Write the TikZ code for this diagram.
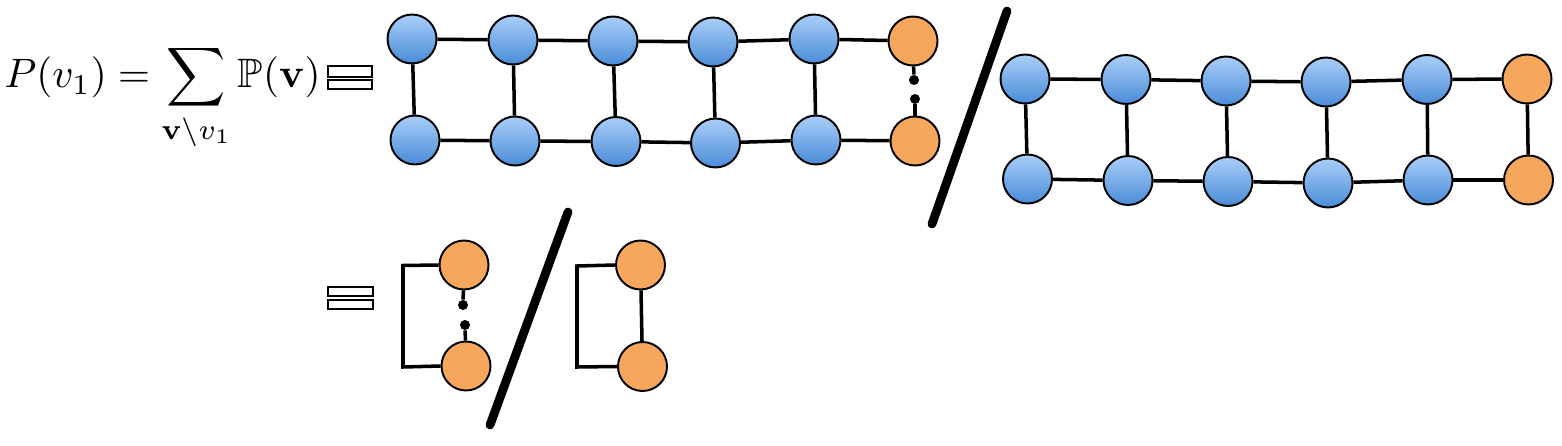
\documentclass[tikz,border=0pt]{standalone}
\usepackage{amsmath,amssymb}
\usepackage{graphicx}
\begin{document}
\begin{tikzpicture}[x=0.02cm,y=-0.02cm,
  bnode/.style={circle,draw=black,line width=1.1pt,minimum size=0.98cm,inner sep=0pt,top color=blueT,bottom color=blueB,shading angle=0},
  onode/.style={circle,draw=black,line width=1.1pt,minimum size=0.98cm,inner sep=0pt,fill=orangeF},
  dotn/.style={circle,fill=black,minimum size=0.2cm,inner sep=0pt},
  edge/.style={line width=2pt,black},
  slash/.style={line width=5pt,line cap=round,black},
  eqbar/.style={draw=black,line width=0.9pt,fill=white}]
\definecolor{blueT}{HTML}{A9CEF8}
\definecolor{blueB}{HTML}{4A8CD8}
\definecolor{orangeF}{HTML}{F7A75D}
\useasboundingbox (0,0) rectangle (1562,446);

% formula
\node[anchor=base west,inner sep=0pt] (formula) at (4,88) {\scalebox{2.34}{$P(v_1) = \displaystyle\sum_{\mathbf{v}\setminus v_1}\mathbb{P}(\mathbf{v})$}};

% hollow equal signs
\draw[eqbar] (328,66) rectangle (372,77);
\draw[eqbar] (328,80) rectangle (372,89);
\draw[eqbar] (328,287) rectangle (373,296);
\draw[eqbar] (328,300) rectangle (373,309);

% chain 1
\node[bnode] (a1) at (412,39) {};
\node[bnode] (a2) at (513,40) {};
\node[bnode] (a3) at (613,41) {};
\node[bnode] (a4) at (713,42) {};
\node[bnode] (a5) at (814,39) {};
\node[onode] (a6) at (913,41) {};
\node[bnode] (b1) at (415,140) {};
\node[bnode] (b2) at (515,141) {};
\node[bnode] (b3) at (616,141.5) {};
\node[bnode] (b4) at (715.5,143) {};
\node[bnode] (b5) at (816,140) {};
\node[onode] (b6) at (915,141) {};
\node[dotn] (d1) at (914,80) {};
\node[dotn] (d2) at (915,99) {};
\foreach \i/\j in {1/2,2/3,3/4,4/5,5/6}{
  \draw[edge] (a\i) -- (a\j);
  \draw[edge] (b\i) -- (b\j);
}
\foreach \i in {1,...,5}{\draw[edge] (a\i) -- (b\i);}
\draw[edge] (a6) -- (d1);
\draw[edge] (d2) -- (b6);

% slash 1
\coordinate (s1a) at (1007,11);
\coordinate (s1b) at (932,224);
\draw[slash] (s1a) -- (s1b);

% chain 2
\node[bnode] (c1) at (1025,79) {};
\node[bnode] (c2) at (1126,79.5) {};
\node[bnode] (c3) at (1226,81) {};
\node[bnode] (c4) at (1326,82) {};
\node[bnode] (c5) at (1427,79.5) {};
\node[onode] (c6) at (1527,79) {};
\node[bnode] (e1) at (1027.5,179) {};
\node[bnode] (e2) at (1128,180.5) {};
\node[bnode] (e3) at (1228,181.5) {};
\node[bnode] (e4) at (1328,183) {};
\node[bnode] (e5) at (1428,180) {};
\node[onode] (e6) at (1528.5,180) {};
\foreach \i/\j in {1/2,2/3,3/4,4/5,5/6}{
  \draw[edge] (c\i) -- (c\j);
  \draw[edge] (e\i) -- (e\j);
}
\foreach \i in {1,...,6}{\draw[edge] (c\i) -- (e\i);}

% bottom left pair
\node[onode] (f1) at (464,265) {};
\node[onode] (f2) at (466,366) {};
\node[dotn] (g1) at (463,305) {};
\node[dotn] (g2) at (465,325) {};
\coordinate (k1) at (403,265.5);
\coordinate (k2) at (403,367);
\draw[edge] (f1.west) -- (k1) -- (k2) -- (f2.west);
\draw[edge] (f1) -- (g1);
\draw[edge] (g2) -- (f2);

% slash 2
\coordinate (s2a) at (568,212);
\coordinate (s2b) at (490,425);
\draw[slash] (s2a) -- (s2b);

% bottom right pair
\node[onode] (h1) at (640.5,265) {};
\node[onode] (h2) at (642.5,366.5) {};
\coordinate (m1) at (577,266);
\coordinate (m2) at (577,367);
\draw[edge] (h1.west) -- (m1) -- (m2) -- (h2.west);
\draw[edge] (h1) -- (h2);
\end{tikzpicture}
\end{document}
